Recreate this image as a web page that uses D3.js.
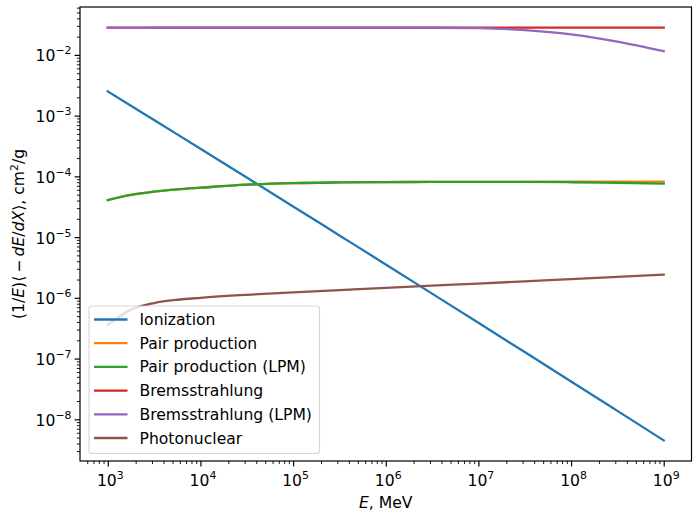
<!DOCTYPE html>
<html>
<head>
<meta charset="utf-8">
<script src="https://cdn.jsdelivr.net/npm/d3@7"></script>
<style>
  html, body { margin: 0; padding: 0; background: #fff; }
  svg { display: block; font-family: "DejaVu Sans", sans-serif; }
</style>
</head>
<body>
<svg id="chart" width="693" height="516"></svg>
<script>
// ---- data ----
const energyMeV = [1e3, 1.778e3, 3.162e3, 5.623e3, 1e4, 3.162e4, 1e5, 3.162e5, 1e6, 3.162e6, 1e7, 3.162e7, 1e8, 3.162e8, 1e9];

const ionization      = [2.50e-3, 1.451e-3, 8.44e-4, 4.91e-4, 2.85e-4, 9.55e-5, 3.2e-5, 1.066e-5, 3.55e-6, 1.173e-6, 3.88e-7, 1.278e-7, 4.2e-8, 1.376e-8, 4.5e-9];
const pairProduction  = [4.07e-5, 4.95e-5, 5.6e-5, 6.1e-5, 6.5e-5, 7.3e-5, 7.75e-5, 7.95e-5, 8.05e-5, 8.1e-5, 8.12e-5, 8.14e-5, 8.16e-5, 8.18e-5, 8.2e-5];
const pairProductionLPM = [4.07e-5, 4.95e-5, 5.6e-5, 6.1e-5, 6.5e-5, 7.3e-5, 7.75e-5, 7.95e-5, 8.05e-5, 8.1e-5, 8.12e-5, 8.1e-5, 8.0e-5, 7.85e-5, 7.6e-5];
const bremsstrahlung  = [0.0281, 0.0281, 0.0281, 0.0281, 0.0281, 0.0281, 0.0281, 0.0281, 0.0281, 0.0281, 0.0281, 0.0281, 0.0281, 0.0281, 0.0281];
const bremsstrahlungLPM = [0.0278, 0.0279, 0.0280, 0.0280, 0.0281, 0.0281, 0.0281, 0.0281, 0.0281, 0.0280, 0.0276, 0.0256, 0.0218, 0.0165, 0.0115];
const photonuclear    = [3.6e-7, 6.4e-7, 8.2e-7, 9.3e-7, 1.0e-6, 1.12e-6, 1.23e-6, 1.34e-6, 1.46e-6, 1.59e-6, 1.72e-6, 1.87e-6, 2.04e-6, 2.22e-6, 2.41e-6];

const seriesNames  = ["Ionization", "Pair production", "Pair production (LPM)", "Bremsstrahlung", "Bremsstrahlung (LPM)", "Photonuclear"];
const seriesValues = [ionization, pairProduction, pairProductionLPM, bremsstrahlung, bremsstrahlungLPM, photonuclear];
const seriesColors = ["#1f77b4", "#ff7f0e", "#2ca02c", "#d62728", "#9467bd", "#8c564b"];

const xTickExponents = [3, 4, 5, 6, 7, 8, 9];
const yTickExponents = [-8, -7, -6, -5, -4, -3, -2];

// ---- layout ----
const svg = d3.select("#chart");
const plot = { left: 80, right: 691.5, top: 7, bottom: 461 };
const fs = 15.6;

// log domains with 5% margins (matplotlib style)
function logDomain(vals) {
  const lo = Math.log10(d3.min(vals)), hi = Math.log10(d3.max(vals));
  const m = (hi - lo) * 0.05;
  return [Math.pow(10, lo - m), Math.pow(10, hi + m)];
}
const x = d3.scaleLog().domain(logDomain(energyMeV)).range([plot.left, plot.right]);
const allY = seriesValues.flat();
const y = d3.scaleLog().domain(logDomain(allY)).range([plot.bottom, plot.top]);

const clipId = "clipPlot";
svg.append("clipPath").attr("id", clipId).append("rect")
  .attr("x", plot.left).attr("y", plot.top)
  .attr("width", plot.right - plot.left).attr("height", plot.bottom - plot.top);

// ---- lines ----
const line = d3.line()
  .x((d, i) => x(energyMeV[i]))
  .y(d => y(d))
  .curve(d3.curveMonotoneX);

const lw = 2.3;
const gLines = svg.append("g").attr("clip-path", `url(#${clipId})`);
seriesValues.forEach((vals, k) => {
  gLines.append("path")
    .attr("d", line(vals))
    .attr("fill", "none")
    .attr("stroke", seriesColors[k])
    .attr("stroke-width", lw)
    .attr("stroke-linecap", "square")
    .attr("stroke-linejoin", "round");
});

// ---- axes ----
const majorLen = 5.4, minorLen = 3.1, tickW = 1.2;
const gAxes = svg.append("g");

function minorVals(domain) {
  const out = [];
  const lo = Math.floor(Math.log10(domain[0])), hi = Math.ceil(Math.log10(domain[1]));
  for (let e = lo; e <= hi; e++) {
    for (let m = 2; m <= 9; m++) {
      const v = m * Math.pow(10, e);
      if (v >= domain[0] && v <= domain[1]) out.push(v);
    }
  }
  return out;
}

// x ticks
const xAxis = d3.axisBottom(x).tickValues(xTickExponents.map(e => Math.pow(10, e)))
  .tickSize(majorLen).tickFormat("");
const gx = gAxes.append("g").attr("transform", `translate(0,${plot.bottom})`).call(xAxis);
gx.select(".domain").remove();
gx.selectAll(".tick line").attr("stroke", "#000").attr("stroke-width", tickW);
const xMinor = d3.axisBottom(x).tickValues(minorVals(x.domain())).tickSize(minorLen).tickFormat("");
const gxm = gAxes.append("g").attr("transform", `translate(0,${plot.bottom})`).call(xMinor);
gxm.select(".domain").remove();
gxm.selectAll(".tick line").attr("stroke", "#000").attr("stroke-width", 0.9);

// y ticks
const yAxis = d3.axisLeft(y).tickValues(yTickExponents.map(e => Math.pow(10, e)))
  .tickSize(majorLen).tickFormat("");
const gy = gAxes.append("g").attr("transform", `translate(${plot.left},0)`).call(yAxis);
gy.select(".domain").remove();
gy.selectAll(".tick line").attr("stroke", "#000").attr("stroke-width", tickW);
const yMinor = d3.axisLeft(y).tickValues(minorVals(y.domain())).tickSize(minorLen).tickFormat("");
const gym = gAxes.append("g").attr("transform", `translate(${plot.left},0)`).call(yMinor);
gym.select(".domain").remove();
gym.selectAll(".tick line").attr("stroke", "#000").attr("stroke-width", 0.9);

// tick labels with superscripts
function powLabel(g, e, px, py, anchor) {
  const t = g.append("text")
    .attr("x", px).attr("y", py)
    .attr("text-anchor", anchor)
    .attr("font-size", fs)
    .attr("fill", "#000");
  t.append("tspan").text("10");
  t.append("tspan").attr("dy", -7).attr("font-size", fs * 0.7)
    .text(e < 0 ? "\u2212" + Math.abs(e) : String(e));
}
xTickExponents.forEach(e => powLabel(gAxes, e, x(Math.pow(10, e)) + 2.5, 486, "middle"));
yTickExponents.forEach(e => powLabel(gAxes, e, 71.5, y(Math.pow(10, e)) + 6.5, "end"));

// frame
gAxes.append("rect")
  .attr("x", plot.left).attr("y", plot.top)
  .attr("width", plot.right - plot.left).attr("height", plot.bottom - plot.top)
  .attr("fill", "none").attr("stroke", "#000").attr("stroke-width", 1.2);

// axis labels
const xl = svg.append("text")
  .attr("x", (plot.left + plot.right) / 2).attr("y", 508)
  .attr("text-anchor", "middle").attr("font-size", fs);
xl.append("tspan").attr("font-style", "italic").text("E");
xl.append("tspan").text(", MeV");

const yl = svg.append("text")
  .attr("transform", `translate(23.5,${(plot.top + plot.bottom) / 2}) rotate(-90)`)
  .attr("text-anchor", "middle").attr("font-size", fs);
yl.append("tspan").text("(1/");
yl.append("tspan").attr("font-style", "italic").text("E");
yl.append("tspan").text(")\u27E8\u2009\u2212\u2009");
yl.append("tspan").attr("font-style", "italic").text("dE");
yl.append("tspan").text("/");
yl.append("tspan").attr("font-style", "italic").text("dX");
yl.append("tspan").text("\u27E9, cm");
yl.append("tspan").attr("dy", -6).attr("font-size", fs * 0.7).text("2");
yl.append("tspan").attr("dy", 6).text("/g");

// ---- legend ----
const lg = svg.append("g");
lg.append("rect")
  .attr("x", 89).attr("y", 306).attr("width", 230.5).attr("height", 147.5)
  .attr("rx", 3).attr("ry", 3)
  .attr("fill", "#fff").attr("fill-opacity", 0.8)
  .attr("stroke", "#cccccc").attr("stroke-opacity", 0.8).attr("stroke-width", 1.1);
seriesNames.forEach((name, k) => {
  const cy = 319.5 + k * 23.7;
  lg.append("line")
    .attr("x1", 94).attr("x2", 127.5).attr("y1", cy).attr("y2", cy)
    .attr("stroke", seriesColors[k]).attr("stroke-width", lw);
  lg.append("text")
    .attr("x", 139.5).attr("y", cy + 5.5)
    .attr("font-size", fs).attr("fill", "#000")
    .text(name);
});
</script>
</body>
</html>
